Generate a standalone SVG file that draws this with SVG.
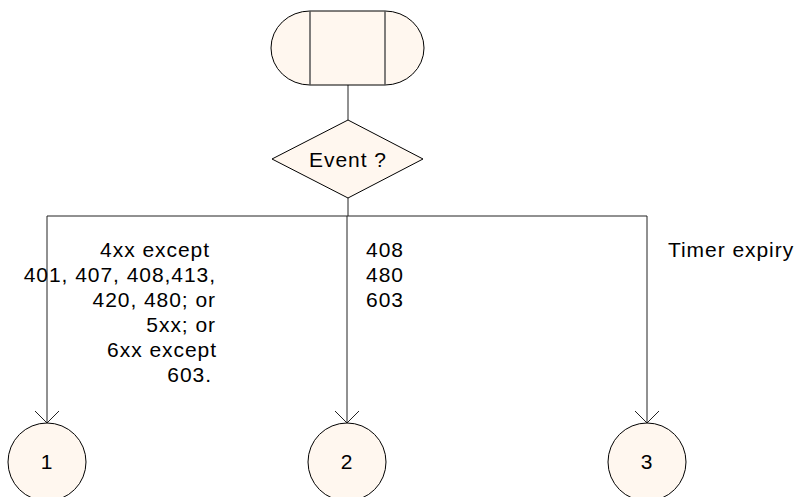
<svg xmlns="http://www.w3.org/2000/svg" width="798" height="497" viewBox="0 0 798 497">
<style>
.shape{fill:#FFF7EF;stroke:#000;stroke-width:1}
.div{stroke:#555;stroke-width:1.5;fill:none}
.conn{stroke:#222;stroke-width:1;fill:none}
text{font-family:"Liberation Sans",Arial,sans-serif;font-size:21px;letter-spacing:0.95px;fill:#000}
.r{text-anchor:end}
.c{text-anchor:middle}
</style>
<defs>
<marker id="arr" markerWidth="30" markerHeight="30" refX="12" refY="12" orient="auto" markerUnits="userSpaceOnUse" viewBox="0 0 30 30">
<path d="M0,0 L12,12 L0,24" fill="none" stroke="#222" stroke-width="1"/>
</marker>
</defs>
<rect width="798" height="497" fill="#fff"/>
<g id="connectors">
<line class="conn" x1="348" y1="85" x2="348" y2="120"/>
<line class="conn" x1="348" y1="198" x2="348" y2="216"/>
<line class="conn" x1="47" y1="216" x2="647" y2="216"/>
<line class="conn" x1="47" y1="216" x2="47" y2="423" marker-end="url(#arr)"/>
<line class="conn" x1="347" y1="216" x2="347" y2="423" marker-end="url(#arr)"/>
<line class="conn" x1="647" y1="216" x2="647" y2="423" marker-end="url(#arr)"/>
</g>
<g id="start">
<path class="shape" d="M310,11 H385 A39,37 0 0 1 385,85 H310 A39,37 0 0 1 310,11 Z"/>
<line class="div" x1="310" y1="11" x2="310" y2="85"/>
<line class="div" x1="385" y1="11" x2="385" y2="85"/>
</g>
<g id="decision">
<polygon class="shape" points="348,120 423,159 348,198 272,159"/>
<text x="348" y="167" class="c">Event ?</text>
</g>
<g id="labels">
<text x="210" y="257" class="r">4xx except</text>
<text x="216" y="282" class="r">401, 407, 408,413,</text>
<text x="216" y="307" class="r">420, 480; or</text>
<text x="216" y="332" class="r">5xx; or</text>
<text x="217" y="357" class="r">6xx except</text>
<text x="212" y="382" class="r">603.</text>
<text x="366" y="257">408</text>
<text x="366" y="282">480</text>
<text x="366" y="307">603</text>
<text x="668" y="257">Timer expiry</text>
</g>
<g id="node1">
<circle class="shape" cx="47" cy="462" r="39"/>
<text x="47" y="469" class="c">1</text>
</g>
<g id="node2">
<circle class="shape" cx="347" cy="462" r="39"/>
<text x="347" y="469" class="c">2</text>
</g>
<g id="node3">
<circle class="shape" cx="647" cy="462" r="39"/>
<text x="647" y="469" class="c">3</text>
</g>
</svg>
